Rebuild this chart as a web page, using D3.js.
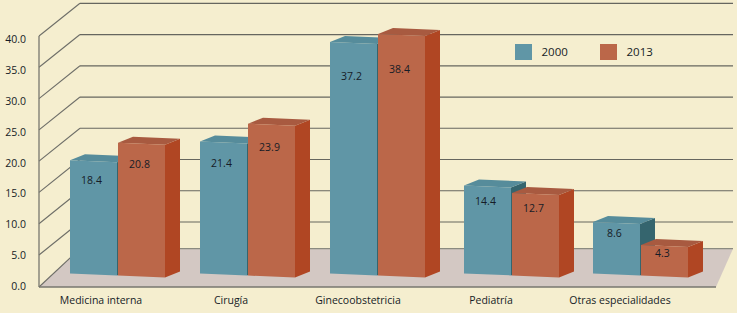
<!DOCTYPE html>
<html><head><meta charset="utf-8">
<script src="https://cdn.jsdelivr.net/npm/d3@7/dist/d3.min.js"></script>
<style>html,body{margin:0;padding:0;background:#f5eecf}svg{display:block}text{font-family:"Open Sans","Noto Sans",sans-serif;fill:#161c26}</style>
</head><body><svg id="c" width="737" height="313"></svg>
<script>
const categories = ["Medicina interna","Cirugía","Ginecoobstetricia","Pediatría","Otras especialidades"];
const series2000 = [18.4,21.4,37.2,14.4,8.6];
const series2013 = [20.8,23.9,38.4,12.7,4.3];
const seriesNames = ["2000","2013"];
const ticks = [0,5,10,15,20,25,30,35,40];

const svg = d3.select("#c");
const W=737,H=313;
svg.append("rect").attr("width",W).attr("height",H).attr("fill","#f5eecf");

// scales
const yFront = d3.scaleLinear().domain([0,5,40]).range([287,255,36]);
const yBack  = d3.scaleLinear().domain([0,5,40]).range([248.7,222,3.3]);
const yTickText = d3.scaleLinear().domain([0,40]).range([287,40.5]);
const xFront = 39, xBack = 80, xRight = 733, xFloorFront = 716;
const xBar = d3.scaleOrdinal().domain(categories).range([70,200,330,464,593]);
const xLabel = d3.scaleOrdinal().domain(categories).range([101,231,358,491,620]);
const barW = 47, gap = 1, depthX = 15, depthY = 6, skew = 2;
const ySeries = [
  d3.scaleLinear().domain([0,40]).range([276,24.4]),
  d3.scaleLinear().domain([0,40]).range([271.6,24])
];
const baseY = [273.4,275.6];
const labelDrop = d3.scaleLinear().domain([4,38]).range([9,36]);
const pal = [
  {front:"#6096a6",top:"#568c9b",side:"#35656e"},
  {front:"#bb6749",top:"#a85a40",side:"#b04623"}
];
const pts = a => a.map(p=>p.join(",")).join(" ");

// floor
svg.append("polygon").attr("fill","#d3c8c3")
  .attr("points",pts([[xFront,yFront(0)],[xFloorFront,yFront(0)],[xRight,yBack(0)],[xBack,yBack(0)]]));

// grid
ticks.forEach(t=>{
  svg.append("line").attr("x1",xFront).attr("y1",yFront(t)).attr("x2",xBack).attr("y2",yBack(t))
    .attr("stroke","#6e6e68").attr("stroke-width",1.1);
  svg.append("line").attr("x1",xBack).attr("y1",yBack(t)).attr("x2",xRight).attr("y2",yBack(t))
    .attr("stroke",t===0?"#8b8b80":"#66665f").attr("stroke-width",1.2);
});
svg.append("line").attr("x1",xFront).attr("y1",yFront(40)).attr("x2",xFront).attr("y2",yFront(0)).attr("stroke","#77776f").attr("stroke-width",1.3);
svg.append("line").attr("x1",xFront).attr("y1",yFront(0)).attr("x2",xFloorFront).attr("y2",yFront(0)).attr("stroke","#77776f").attr("stroke-width",1.3);

// tick labels
svg.selectAll("text.t").data(ticks).join("text").attr("class","t")
  .attr("x",26).attr("y",d=>yTickText(d)).attr("text-anchor","end")
  .attr("dominant-baseline","middle").attr("font-size",10.5).text(d=>d.toFixed(1));

// bars
[series2000,series2013].forEach((vals,si)=>{
  const c=pal[si], g=svg.append("g");
  vals.forEach((v,i)=>{
    const x0=xBar(categories[i])+si*(barW+gap), x1=x0+barW;
    const t=ySeries[si](v), b=baseY[si];
    g.append("polygon").attr("fill",c.side)
      .attr("points",pts([[x1,t+skew],[x1+depthX,t+skew-depthY],[x1+depthX,b+skew-depthY],[x1,b+skew]]));
    g.append("polygon").attr("fill",c.top)
      .attr("points",pts([[x0,t],[x0+depthX,t-depthY],[x1+depthX,t+skew-depthY],[x1,t+skew]]));
    g.append("polygon").attr("fill",c.front)
      .attr("points",pts([[x0,t],[x1,t+skew],[x1,b+skew],[x0,b]]));
    g.append("text").attr("x",x0+barW/2-2).attr("y",t+labelDrop(v))
      .attr("text-anchor","middle").attr("dominant-baseline","middle")
      .attr("font-size",10.5).text(v.toFixed(1));
  });
});

// category labels
svg.selectAll("text.c").data(categories).join("text").attr("class","c")
  .attr("x",d=>xLabel(d)).attr("y",301.5).attr("text-anchor","middle")
  .attr("dominant-baseline","middle").attr("font-size",10.5).text(d=>d);

// legend
const lx=d3.scalePoint().domain(seriesNames).range([515,600]);
seriesNames.forEach((n,i)=>{
  svg.append("rect").attr("x",lx(n)).attr("y",44).attr("width",17).attr("height",16).attr("fill",pal[i].front);
  svg.append("text").attr("x",lx(n)+26.5).attr("y",52.5).attr("dominant-baseline","middle").attr("font-size",11.5).text(n);
});
</script></body></html>
